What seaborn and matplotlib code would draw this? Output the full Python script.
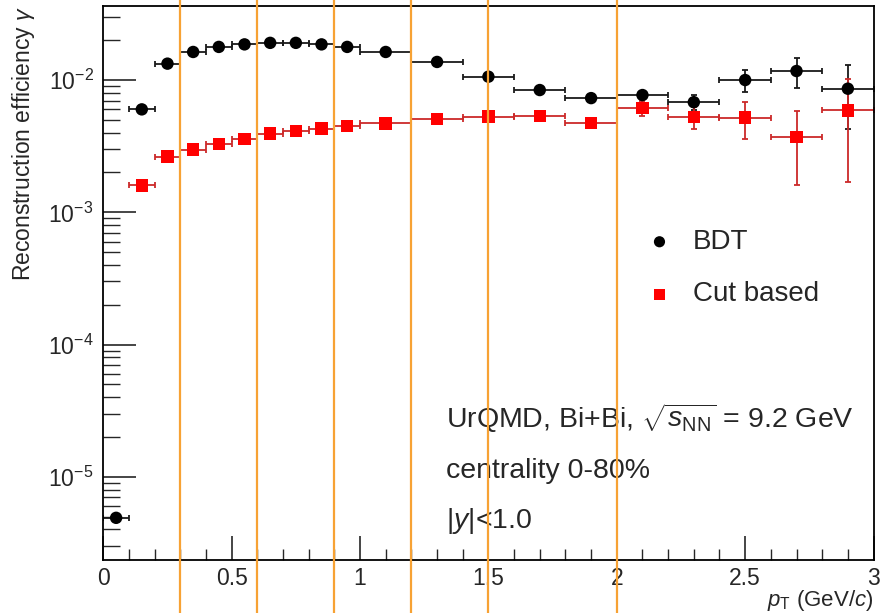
import numpy as np
import pandas as pd
import matplotlib
matplotlib.use("Agg")
import matplotlib.pyplot as plt
import seaborn as sns
from matplotlib.ticker import LogLocator, FixedLocator, MultipleLocator

# --- data ---
pt_bdt = [0.05, 0.15, 0.25, 0.35, 0.45, 0.55, 0.65, 0.75, 0.85, 0.95,
          1.1, 1.3, 1.5, 1.7, 1.9, 2.1, 2.3, 2.5, 2.7, 2.9]
pt_bdt_err = [0.05] * 10 + [0.1] * 10
eff_bdt = [4.9e-6, 6.0e-3, 1.33e-2, 1.63e-2, 1.78e-2, 1.86e-2, 1.91e-2, 1.91e-2, 1.86e-2, 1.78e-2,
           1.63e-2, 1.37e-2, 1.06e-2, 8.4e-3, 7.3e-3, 7.7e-3, 6.8e-3, 1.00e-2, 1.17e-2, 8.6e-3]
eff_bdt_err = [1e-7, 1e-4, 2e-4, 2e-4, 2e-4, 2e-4, 2e-4, 2e-4, 2e-4, 2e-4,
               2e-4, 2e-4, 3e-4, 3e-4, 4e-4, 5e-4, 9e-4, 1.9e-3, 3.0e-3, 4.3e-3]

pt_cut = pt_bdt[1:]
pt_cut_err = pt_bdt_err[1:]
eff_cut = [1.6e-3, 2.64e-3, 2.98e-3, 3.3e-3, 3.58e-3, 3.93e-3, 4.1e-3, 4.3e-3, 4.5e-3,
           4.7e-3, 5.1e-3, 5.3e-3, 5.35e-3, 4.75e-3, 6.15e-3, 5.25e-3, 5.2e-3, 3.7e-3, 5.9e-3]
eff_cut_err = [5e-5, 6e-5, 6e-5, 7e-5, 7e-5, 8e-5, 8e-5, 9e-5, 1e-4,
               1e-4, 1.2e-4, 1.5e-4, 2e-4, 2.5e-4, 8e-4, 1.0e-3, 1.6e-3, 2.1e-3, 4.2e-3]

bin_edges_marked = [0.3, 0.6, 0.9, 1.2, 1.5, 2.0]
x_ticks = [0, 0.5, 1, 1.5, 2, 2.5, 3]
x_tick_labels = ["0", "0.5", "1", "1.5", "2", "2.5", "3"]

sns.set_style("ticks")
plt.rcParams['font.family'] = ['Liberation Sans', 'DejaVu Sans']
plt.rcParams['mathtext.fontset'] = 'custom'
plt.rcParams['mathtext.rm'] = 'Liberation Sans'
plt.rcParams['mathtext.it'] = 'Liberation Sans:italic'

df_bdt = pd.DataFrame({'pt': pt_bdt, 'eff': eff_bdt})
df_cut = pd.DataFrame({'pt': pt_cut, 'eff': eff_cut})

fig = plt.figure(figsize=(8.82, 6.13), dpi=100)
ax = fig.add_axes([0.1171, 0.086, 0.8733, 0.904])

# error bars
ax.errorbar(pt_bdt, eff_bdt, xerr=pt_bdt_err, yerr=eff_bdt_err, fmt='none',
            ecolor='#1a1a1a', elinewidth=1.3, capsize=2.5, capthick=1.3, zorder=2)
ax.errorbar(pt_cut, eff_cut, xerr=pt_cut_err, yerr=eff_cut_err, fmt='none',
            ecolor='#cc2a2a', elinewidth=1.3, capsize=2.5, capthick=1.3, zorder=2)

sns.scatterplot(data=df_bdt, x='pt', y='eff', ax=ax, color='black', marker='o',
                s=80, edgecolor='none', label='BDT', zorder=3)
sns.scatterplot(data=df_cut, x='pt', y='eff', ax=ax, color='#ff0000', marker='s',
                s=80, edgecolor='none', label='Cut based', zorder=3)

ax.set_yscale('log')
ax.set_xlim(0, 3)
ax.set_ylim(2.34e-6, 3.62e-2)

# orange bin markers spanning the whole figure height
for xb in bin_edges_marked:
    ax.axvline(xb, ymin=-0.12, ymax=1.03, color='#f7a234', lw=1.6, clip_on=False, zorder=5)

# ticks, ROOT-like
ax.xaxis.set_major_locator(FixedLocator(x_ticks))
ax.set_xticklabels(x_tick_labels)
ax.xaxis.set_minor_locator(MultipleLocator(0.1))
ax.yaxis.set_major_locator(LogLocator(base=10, numticks=10))
ax.yaxis.set_minor_locator(LogLocator(base=10, subs=np.arange(2, 10), numticks=20))
ax.tick_params(axis='both', which='both', direction='in', top=False, right=False)
ax.tick_params(axis='y', which='major', length=24, width=1.2, labelsize=16.5, pad=7)
ax.tick_params(axis='y', which='minor', length=12, width=1.0)
ax.tick_params(axis='x', which='major', length=17, width=1.2, labelsize=16.5, pad=5)
ax.tick_params(axis='x', which='minor', length=8, width=1.0)
for sp in ax.spines.values():
    sp.set_linewidth(1.3)
    sp.set_color('black')

ax.set_xlabel(r'$p_{\mathrm{T}}$ (GeV/$c$)', fontsize=16, loc='right')
ax.xaxis.set_label_coords(1.0, -0.05)
ax.xaxis.label.set_va('top')
ax.set_ylabel(r'Reconstruction efficiency $\gamma$', fontsize=16.5, loc='top')
ax.yaxis.set_label_coords(-0.086, 1.0)

ax.legend(loc='center left', bbox_to_anchor=(0.668, 0.527), frameon=False,
          fontsize=20, handletextpad=0.6, labelspacing=0.95, handlelength=1.2,
          markerscale=0.9)

ax.text(0.445, 0.2387, r'UrQMD, Bi+Bi, $\sqrt{s_{\mathrm{NN}}}$ = 9.2 GeV',
        transform=ax.transAxes, fontsize=20.5, va='baseline', ha='left')
ax.text(0.445, 0.1485, 'centrality 0-80%', transform=ax.transAxes,
        fontsize=20.5, va='baseline', ha='left')
ax.text(0.445, 0.0583, r'|$y$|<1.0', transform=ax.transAxes,
        fontsize=20.5, va='baseline', ha='left')

fig.savefig('out.png', dpi=100)
